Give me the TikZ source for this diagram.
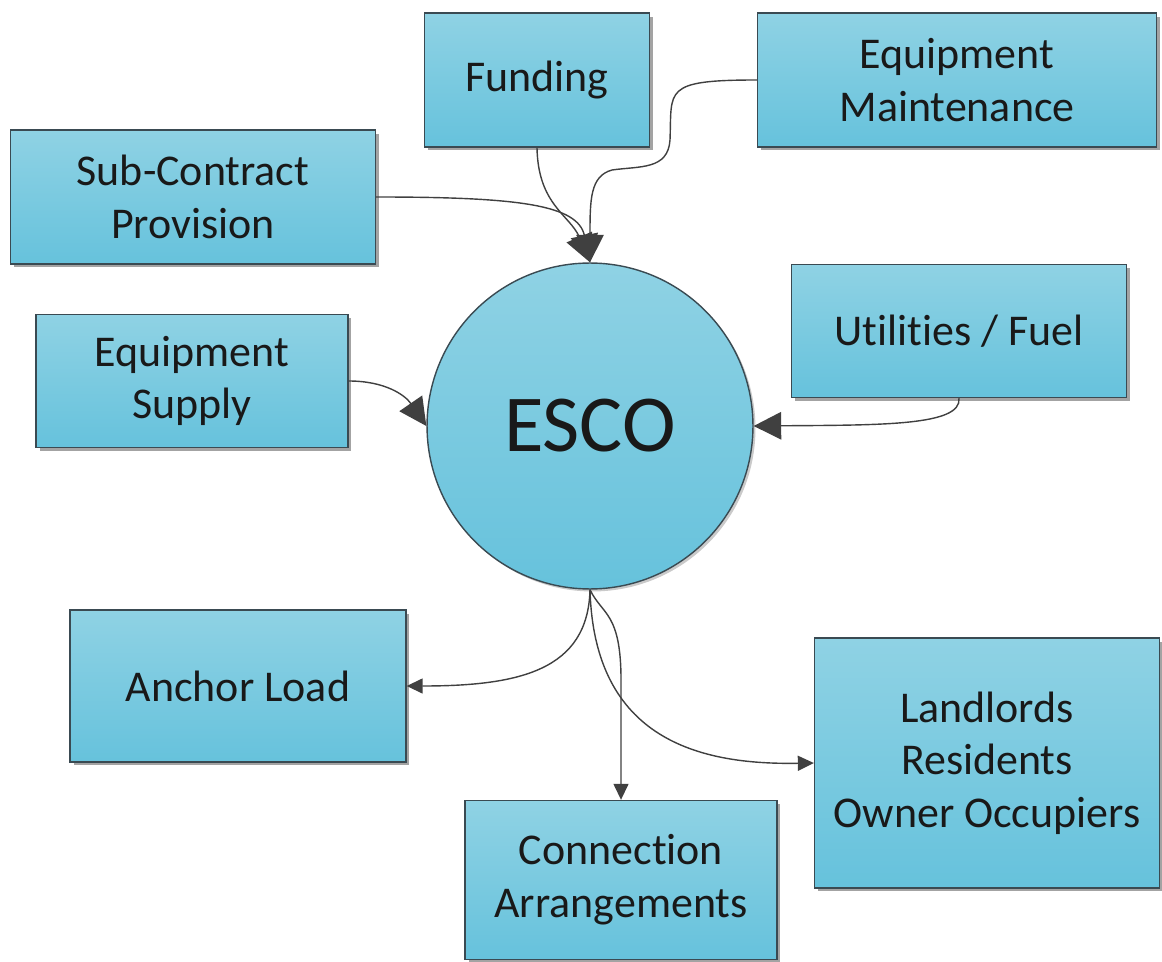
\documentclass[tikz,border=0pt]{standalone}
\usepackage{fontspec}
\setmainfont{Carlito}[Ligatures=CommonOff]
\usepackage{xcolor}
\usepackage{tikz}
\usetikzlibrary{shapes.geometric, arrows.meta, shadows}
\definecolor{boxtop}{HTML}{8FD2E4}
\definecolor{boxbot}{HTML}{66C2DC}
\definecolor{edge}{HTML}{3A4A52}
\definecolor{line}{HTML}{404040}
\tikzstyle{pa} = [rectangle, text centered, align=center, draw=edge, line width=0.8pt, top color=boxtop, bottom color=boxbot, font=\fontsize{25}{30}\selectfont, text=black!90, drop shadow={shadow xshift=0.07cm, shadow yshift=-0.07cm, fill=black!45, opacity=0.8}]
\tikzstyle{ma} = [circle, minimum size=6.52cm, text centered, draw=edge, line width=0.8pt, top color=boxtop, bottom color=boxbot, font=\fontsize{46}{50}\selectfont, text=black!90, drop shadow={shadow xshift=0.05cm, shadow yshift=-0.05cm, fill=black!35, opacity=0.6}]
\tikzstyle{arrow} = [line width=0.8pt, draw=line, -{Triangle[length=0.55cm, width=0.55cm]}]
\tikzstyle{sarrow} = [line width=0.8pt, draw=line, -{Triangle[length=0.32cm, width=0.3cm]}]

\begin{document}
\begin{tikzpicture}[x=0.02cm, y=-0.02cm]

\useasboundingbox (0,0) rectangle (1162,962);

\node (A) [ma] at (590,426) {ESCO};

\node (fund) [pa, minimum width=4.5cm, minimum height=2.68cm] at (537,80) {Funding};
\node (maint) [pa, minimum width=7.98cm, minimum height=2.68cm] at (957,80) {Equipment\\Maintenance};
\node (sub) [pa, minimum width=7.3cm, minimum height=2.68cm] at (193,197) {Sub-Contract\\Provision};
\node (supply) [pa, minimum width=6.24cm, minimum height=2.66cm] at (192,381) {Equipment\\Supply};
\node (util) [pa, minimum width=6.7cm, minimum height=2.66cm] at (959,331) {Utilities / Fuel};

\node (anchor) [pa, minimum width=6.72cm, minimum height=3.04cm] at (238,686) {Anchor Load};
\node (land) [pa, minimum width=6.9cm, minimum height=5cm] at (987,763) {Landlords\\Residents\\Owner Occupiers};
\node (conn) [pa, minimum width=6.24cm, minimum height=3.18cm] at (621,880) {Connection\\Arrangements};

\draw [arrow] (sub.east) .. controls (520,197) and (578,205) .. (A.north);
\draw [arrow] (fund.south) .. controls (538,205) and (570,215) .. (A.north);
\draw [arrow] (maint.west) .. controls (662,80) and (672,90) .. (670,140)
    .. controls (668,170) and (640,166) .. (612,170)
    .. controls (590,176) and (590,200) .. (A.north);
\draw [arrow] (supply.east) .. controls (385,381) and (405,395) .. (A.west);
\draw [arrow] (util.south) .. controls (962,426) and (880,425) .. (A.east);

\draw [sarrow] (A.south) .. controls (588,670) and (520,686) .. (anchor.east);
\draw [sarrow] (A.south) .. controls (602,615) and (621,612) .. (621,680) -- (conn.north);
\draw [sarrow] (A.south) .. controls (594,740) and (700,765) .. (land.west);

\end{tikzpicture}
\end{document}
